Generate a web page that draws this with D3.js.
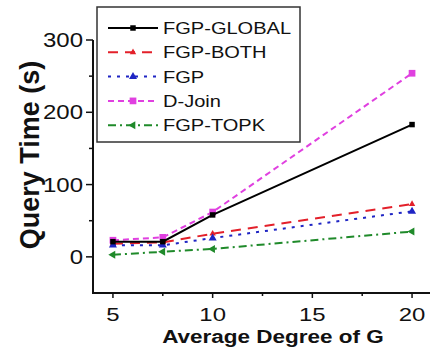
<!DOCTYPE html>
<html>
<head>
<meta charset="utf-8">
<script src="https://cdn.jsdelivr.net/npm/d3@7"></script>
<style>
  body { margin: 0; background: #fff; }
  text { font-family: "Liberation Sans", Arial, sans-serif; fill: #111; }
</style>
</head>
<body>
<div id="viz"></div>
<script>
const width = 430;
const height = 349;

// data
const degrees = [5, 7.5, 10, 20];
const fgpGlobal = [21, 21, 58, 183];
const fgpBoth = [18, 20, 32, 73];
const fgp = [16, 16, 26, 63];
const dJoin = [23, 27, 62, 254];
const fgpTopk = [3, 7, 11, 35];
const seriesNames = ['FGP-GLOBAL', 'FGP-BOTH', 'FGP', 'D-Join', 'FGP-TOPK'];
const yTicks = [0, 100, 200, 300];
const yMinor = [50, 150, 250];
const xTicks = [5, 10, 15, 20];
const xMinor = [7.5, 12.5, 17.5];

// styles per series (same order as names)
const styles = [
    {color: '#000000', dash: null, symbol: d3.symbolSquare, rot: 0, size: 30},
    {color: '#e3202a', dash: '10,7', symbol: d3.symbolTriangle, rot: 0, size: 18},
    {color: '#1f25c4', dash: '3,6', symbol: d3.symbolTriangle, rot: 0, size: 28},
    {color: '#e040e0', dash: '6,4', symbol: d3.symbolSquare, rot: 0, size: 45},
    {color: '#1f8a2a', dash: '8,4,2,4', symbol: d3.symbolTriangle, rot: -90, size: 28}
];
const allSeries = [fgpGlobal, fgpBoth, fgp, dJoin, fgpTopk];

const x = d3.scaleLinear().domain([4, 20.9]).range([93, 430]);
const y = d3.scaleLinear().domain([-50, 300]).range([293, 40]);

const svg = d3.select('#viz').append('svg')
    .attr('width', width)
    .attr('height', height);

// stretched text helper (original fonts are wider than Arial)
const stretchText = (g, tx, ty, str, size, sx, anchor, weight) => g.append('text')
    .attr('transform', `translate(${tx},${ty}) scale(${sx},1)`)
    .attr('text-anchor', anchor)
    .style('font-size', size + 'px')
    .style('font-weight', weight || 'normal')
    .text(str);

// lines
const line = d3.line().x((d, i) => x(degrees[i])).y(d => y(d));

// draw D-Join first so black sits on top, like the picture
const drawOrder = [3, 1, 2, 4, 0];
drawOrder.forEach(k => {
    const st = styles[k];
    const g = svg.append('g').attr('class', 'series');
    g.append('path')
        .attr('d', line(allSeries[k]))
        .attr('fill', 'none')
        .attr('stroke', st.color)
        .attr('stroke-width', 2)
        .attr('stroke-dasharray', st.dash);
    g.selectAll('path.pt')
        .data(allSeries[k])
        .join('path')
        .attr('class', 'pt')
        .attr('d', d3.symbol().type(st.symbol).size(st.size))
        .attr('transform', (d, i) => `translate(${x(degrees[i])},${y(d)}) rotate(${st.rot})`)
        .attr('fill', st.color);
});

// y axis
const yAxis = svg.append('g').attr('transform', 'translate(93,0)');
yAxis.append('line').attr('y1', y(300)).attr('y2', y(-50)).attr('stroke', '#111').attr('stroke-width', 2);
yAxis.selectAll('line.major').data(yTicks).join('line').attr('class', 'major')
    .attr('x1', -7).attr('x2', 0).attr('y1', d => y(d)).attr('y2', d => y(d))
    .attr('stroke', '#111').attr('stroke-width', 1.5);
yAxis.selectAll('line.minor').data(yMinor).join('line').attr('class', 'minor')
    .attr('x1', -4).attr('x2', 0).attr('y1', d => y(d)).attr('y2', d => y(d))
    .attr('stroke', '#111').attr('stroke-width', 1.5);
yTicks.forEach(t => stretchText(svg, 83, y(t) + 7, t, 20, 1.2, 'end'));

// x axis
const xAxis = svg.append('g').attr('transform', `translate(0,${y(-50)})`);
xAxis.append('line').attr('x1', 92).attr('x2', 430).attr('stroke', '#111').attr('stroke-width', 2);
xAxis.selectAll('line.major').data(xTicks).join('line').attr('class', 'major')
    .attr('x1', d => x(d)).attr('x2', d => x(d)).attr('y1', 0).attr('y2', 5)
    .attr('stroke', '#111').attr('stroke-width', 1.5);
xAxis.selectAll('line.minor').data(xMinor).join('line').attr('class', 'minor')
    .attr('x1', d => x(d)).attr('x2', d => x(d)).attr('y1', 0).attr('y2', 3)
    .attr('stroke', '#111').attr('stroke-width', 1.5);
xTicks.forEach(t => stretchText(svg, x(t), 321, t, 19, 1.26, 'middle'));

// axis titles
stretchText(svg, 273, 343, 'Average Degree of G', 18, 1.25, 'middle', 'bold');
svg.append('text')
    .attr('transform', 'translate(39,155) rotate(-90)')
    .attr('text-anchor', 'middle')
    .style('font-size', '27px')
    .style('font-weight', 'bold')
    .text('Query Time (s)');

// legend
const legend = svg.append('g');
legend.append('rect')
    .attr('x', 97).attr('y', 7).attr('width', 203).attr('height', 135)
    .attr('fill', '#fff').attr('stroke', '#333').attr('stroke-width', 1.5);
seriesNames.forEach((name, i) => {
    const st = styles[i];
    const ly = 28 + i * 24.3;
    legend.append('line')
        .attr('x1', 108).attr('x2', 158).attr('y1', ly).attr('y2', ly)
        .attr('stroke', st.color).attr('stroke-width', 2)
        .attr('stroke-dasharray', st.dash);
    legend.append('path')
        .attr('d', d3.symbol().type(st.symbol).size(st.size)())
        .attr('transform', `translate(133,${ly}) rotate(${st.rot})`)
        .attr('fill', st.color);
    stretchText(legend, 163, ly + 6, name, 17, 1.18, 'start');
});
</script>
</body>
</html>
